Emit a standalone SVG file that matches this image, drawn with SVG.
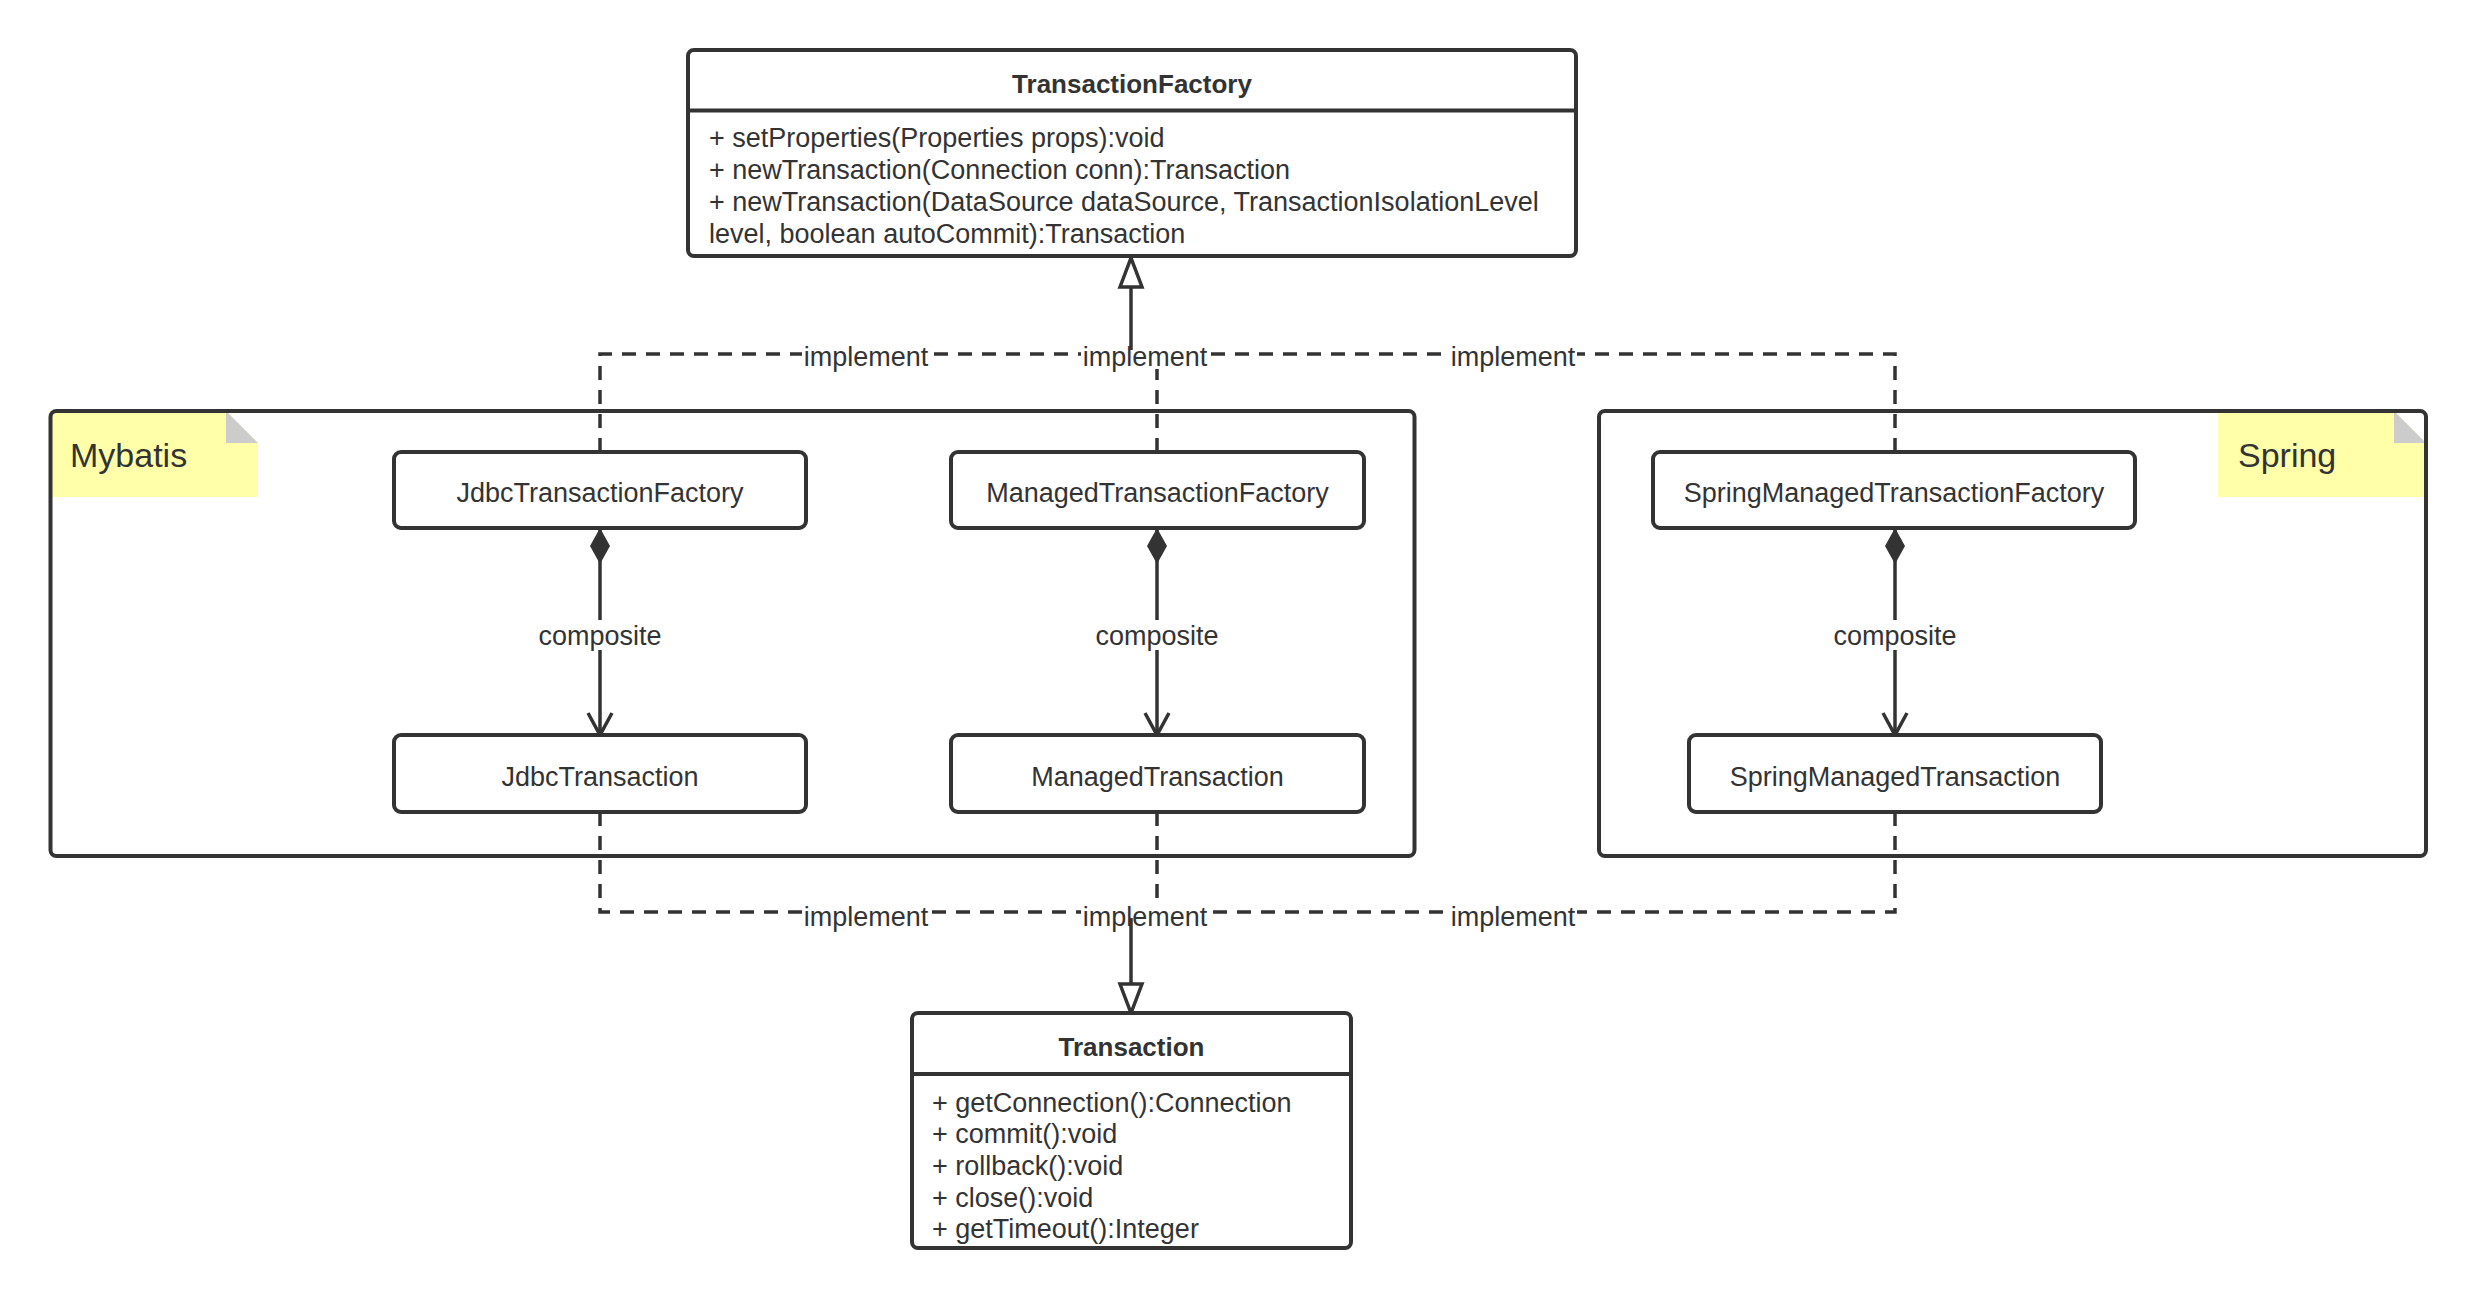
<svg xmlns="http://www.w3.org/2000/svg" width="2476" height="1298" viewBox="0 0 2476 1298">
<style>
text { font-family: "Liberation Sans", Arial, sans-serif; fill: #333333; }
.t { font-size: 27px; }
.b { font-size: 26px; font-weight: bold; }
.n { font-size: 34px; }
.c { text-anchor: middle; }
.box { fill: #ffffff; stroke: #333333; stroke-width: 4; }
.cont { fill: none; stroke: #333333; stroke-width: 4; }
.div { stroke: #333333; stroke-width: 4; }
.dash { fill: none; stroke: #333333; stroke-width: 3.5; stroke-dasharray: 14 10; }
.solid { fill: none; stroke: #333333; stroke-width: 3.5; }
.lbl { fill: #ffffff; }
.note { fill: #FFFFAA; }
.fold { fill: #CCCCCC; }
</style>
<defs>
<marker id="diamond" markerUnits="userSpaceOnUse" markerWidth="38" markerHeight="24" viewBox="-1 -12 38 24" refX="0" refY="0" orient="auto">
<path d="M0,0 L18,-10 L36,0 L18,10 Z" fill="#333333"/>
</marker>
<marker id="open" markerUnits="userSpaceOnUse" markerWidth="30" markerHeight="32" viewBox="-3 -16 30 32" refX="22" refY="0" orient="auto">
<path d="M0,-12 L22,0 L0,12" fill="none" stroke="#333333" stroke-width="3.5"/>
</marker>
<marker id="tri" markerUnits="userSpaceOnUse" markerWidth="36" markerHeight="30" viewBox="-3 -15 36 30" refX="29" refY="0" orient="auto">
<path d="M0,-11 L29,0 L0,11 Z" fill="#ffffff" stroke="#333333" stroke-width="3.5"/>
</marker>
</defs>

<g id="mybatis-package">
<polygon class="note" points="50,411 226,411 258,443 258,497 50,497"/>
<polygon class="fold" points="226,411 258,443 226,443"/>
<rect class="cont" x="50.5" y="411" width="1364" height="445" rx="6"/>
<text class="n" x="70" y="467">Mybatis</text>
</g>

<g id="spring-package">
<polygon class="note" points="2218,411 2394,411 2426,443 2426,497 2218,497"/>
<polygon class="fold" points="2394,411 2426,443 2394,443"/>
<rect class="cont" x="1599" y="411" width="827" height="445" rx="6"/>
<text class="n" x="2238" y="467">Spring</text>
</g>

<g id="connectors">
<path class="dash" d="M600,452 V354 H1131"/>
<path class="dash" d="M1157,452 V354 H1131"/>
<path class="dash" d="M1895,452 V354 H1131"/>
<path class="dash" d="M600,812 V912 H1131"/>
<path class="dash" d="M1157,812 V912 H1131"/>
<path class="dash" d="M1895,812 V912 H1131"/>
<path class="solid" d="M600,528 V735" marker-start="url(#diamond)" marker-end="url(#open)"/>
<path class="solid" d="M1157,528 V735" marker-start="url(#diamond)" marker-end="url(#open)"/>
<path class="solid" d="M1895,528 V735" marker-start="url(#diamond)" marker-end="url(#open)"/>
<rect class="lbl" x="802" y="341" width="128" height="28"/>
<rect class="lbl" x="1081" y="341" width="128" height="28"/>
<rect class="lbl" x="1449" y="341" width="128" height="28"/>
<rect class="lbl" x="802" y="902" width="128" height="28"/>
<rect class="lbl" x="1081" y="902" width="128" height="28"/>
<rect class="lbl" x="1449" y="902" width="128" height="28"/>
<rect class="lbl" x="536" y="620" width="128" height="30"/>
<rect class="lbl" x="1093" y="620" width="128" height="30"/>
<rect class="lbl" x="1831" y="620" width="128" height="30"/>
<text class="t c" x="866" y="366">implement</text>
<text class="t c" x="1145" y="366">implement</text>
<text class="t c" x="1513" y="366">implement</text>
<text class="t c" x="866" y="926">implement</text>
<text class="t c" x="1145" y="926">implement</text>
<text class="t c" x="1513" y="926">implement</text>
<text class="t c" x="600" y="645">composite</text>
<text class="t c" x="1157" y="645">composite</text>
<text class="t c" x="1895" y="645">composite</text>
<path class="solid" d="M1131,350 V258" marker-end="url(#tri)"/>
<path class="solid" d="M1131,918 V1013" marker-end="url(#tri)"/>
</g>

<g id="TransactionFactory">
<rect class="box" x="688" y="50" width="888" height="206" rx="6"/>
<line class="div" x1="688" y1="110.5" x2="1576" y2="110.5"/>
<text class="b c" x="1132" y="93">TransactionFactory</text>
<text class="t" x="709" y="146.5">+ setProperties(Properties props):void</text>
<text class="t" x="709" y="178.5">+ newTransaction(Connection conn):Transaction</text>
<text class="t" x="709" y="210.5">+ newTransaction(DataSource dataSource, TransactionIsolationLevel</text>
<text class="t" x="709" y="242.5">level, boolean autoCommit):Transaction</text>
</g>

<g id="JdbcTransactionFactory">
<rect class="box" x="394" y="452" width="412" height="76" rx="7"/>
<text class="t c" x="600" y="502">JdbcTransactionFactory</text>
</g>
<g id="ManagedTransactionFactory">
<rect class="box" x="951" y="452" width="413" height="76" rx="7"/>
<text class="t c" x="1157.5" y="502">ManagedTransactionFactory</text>
</g>
<g id="SpringManagedTransactionFactory">
<rect class="box" x="1653" y="452" width="482" height="76" rx="7"/>
<text class="t c" x="1894" y="502">SpringManagedTransactionFactory</text>
</g>
<g id="JdbcTransaction">
<rect class="box" x="394" y="735" width="412" height="77" rx="7"/>
<text class="t c" x="600" y="786">JdbcTransaction</text>
</g>
<g id="ManagedTransaction">
<rect class="box" x="951" y="735" width="413" height="77" rx="7"/>
<text class="t c" x="1157.5" y="786">ManagedTransaction</text>
</g>
<g id="SpringManagedTransaction">
<rect class="box" x="1689" y="735" width="412" height="77" rx="7"/>
<text class="t c" x="1895" y="786">SpringManagedTransaction</text>
</g>

<g id="Transaction">
<rect class="box" x="912" y="1013" width="439" height="235" rx="6"/>
<line class="div" x1="912" y1="1074" x2="1351" y2="1074"/>
<text class="b c" x="1131.5" y="1056">Transaction</text>
<text class="t" x="932" y="1111.5">+ getConnection():Connection</text>
<text class="t" x="932" y="1143">+ commit():void</text>
<text class="t" x="932" y="1174.5">+ rollback():void</text>
<text class="t" x="932" y="1206.5">+ close():void</text>
<text class="t" x="932" y="1238">+ getTimeout():Integer</text>
</g>
</svg>
